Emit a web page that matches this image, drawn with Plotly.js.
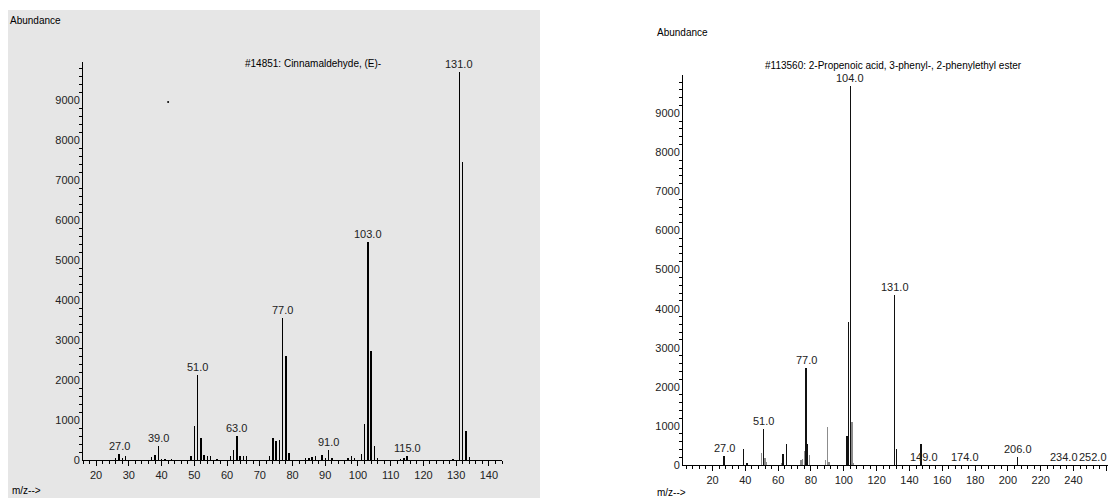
<!DOCTYPE html>
<html>
<head>
<meta charset="utf-8">
<script src="https://cdn.plot.ly/plotly-3.0.1.min.js"></script>
<style>body{margin:0}#plot{width:1110px;height:498px}</style>
</head>
<body>
<div id="plot"></div>
<script>
// Left spectrum: #14851 Cinnamaldehyde, (E)-
const cinMz = [26, 27, 28, 29, 37, 38, 39, 40, 41, 43, 49, 50, 51, 52, 53, 54, 55, 57, 61, 62, 63, 64, 65, 66, 73, 74, 75, 76, 77, 78, 79, 84, 85, 86, 87, 89, 90, 91, 92, 97, 98, 99, 101, 102, 103, 104, 105, 106, 113, 114, 115, 129, 131, 132, 133, 134];
const cinAb = [50, 160, 60, 100, 80, 130, 360, 30, 30, 20, 90, 860, 2120, 560, 130, 100, 100, 30, 100, 256, 590, 100, 100, 100, 100, 540, 480, 510, 3550, 2600, 180, 40, 50, 70, 90, 130, 40, 250, 40, 40, 100, 40, 150, 900, 5450, 2720, 350, 40, 30, 40, 100, 30, 9700, 7450, 730, 80];
const cinLabels = [27, 39, 51, 63, 77, 91, 103, 115, 131];

// Right spectrum: #113560 2-Propenoic acid, 3-phenyl-, 2-phenylethyl ester
const estMzDark = [27, 39, 41, 51, 63, 65, 77, 78, 102, 103, 104, 131, 132, 147, 206];
const estAbDark = [230, 400, 60, 920, 270, 550, 2480, 540, 750, 3650, 9700, 4350, 420, 550, 200];
const estMzGray = [50, 52, 53, 62, 74, 75, 76, 79, 89, 90, 91, 105, 106];
const estAbGray = [300, 170, 80, 60, 130, 160, 350, 250, 130, 970, 80, 1100, 60];
const estLabels = [27, 51, 77, 104, 131, 149, 174, 206, 234, 252];
const estLabelAt = [230, 920, 2480, 9700, 4350, 0, 0, 200, 0, 0];

const cinLabelAt = cinLabels.map(m => cinAb[cinMz.indexOf(m)]);

const data = [
  {type: 'bar', x: cinMz, y: cinAb, width: 0.45, marker: {color: '#000'}, xaxis: 'x', yaxis: 'y'},
  {type: 'scatter', mode: 'markers', x: [42], y: [8950], marker: {color: '#000', size: 2}, xaxis: 'x', yaxis: 'y'},
  {type: 'bar', x: estMzDark, y: estAbDark, width: 0.8, marker: {color: '#111'}, xaxis: 'x2', yaxis: 'y2'},
  {type: 'bar', x: estMzGray, y: estAbGray, width: 0.8, marker: {color: '#8c8c8c'}, xaxis: 'x2', yaxis: 'y2'}
];

const tickFont = {family: 'Liberation Sans, Arial, sans-serif', size: 11, color: '#222'};
const axisBase = {showgrid: false, zeroline: false, showline: true, linecolor: '#000', linewidth: 1,
  ticks: 'outside', ticklen: 5, tickcolor: '#000', tickfont: tickFont, tickformat: 'd'};

const annotations = [];
cinLabels.forEach((m, i) => annotations.push({xref: 'x', yref: 'y', x: m, y: cinLabelAt[i], text: m.toFixed(1),
  showarrow: false, yanchor: 'bottom', yshift: 0, font: tickFont}));
estLabels.forEach((m, i) => annotations.push({xref: 'x2', yref: 'y2', x: m, y: estLabelAt[i], text: m.toFixed(1),
  showarrow: false, yanchor: 'bottom', yshift: 0, font: tickFont}));
const txt = (x, y, t, anchor) => ({xref: 'paper', yref: 'paper', x: x, y: y, text: t, showarrow: false,
  xanchor: anchor || 'left', yanchor: 'middle', font: {family: 'Liberation Sans, Arial, sans-serif', size: 10, color: '#000'}});
annotations.push(txt(8 / 1110, 1 - 20 / 498, 'Abundance'));
annotations.push(txt(655 / 1110, 1 - 32 / 498, 'Abundance'));
annotations.push(txt(10 / 1110, 1 - 490 / 498, 'm/z-->'));
annotations.push(txt(655 / 1110, 1 - 492 / 498, 'm/z-->'));
annotations.push(txt(313 / 1110, 1 - 63 / 498, '#14851: Cinnamaldehyde, (E)-', 'center'));
annotations.push(txt(893 / 1110, 1 - 66 / 498, '#113560: 2-Propenoic acid, 3-phenyl-, 2-phenylethyl ester', 'center'));

const layout = {
  width: 1110, height: 498,
  margin: {l: 0, r: 0, t: 0, b: 0},
  paper_bgcolor: '#fff', plot_bgcolor: 'rgba(0,0,0,0)',
  showlegend: false, bargap: 0,
  shapes: [{type: 'rect', xref: 'paper', yref: 'paper', x0: 8 / 1110, x1: 540 / 1110, y0: 0, y1: 1 - 10 / 498,
    fillcolor: '#e6e6e6', line: {width: 0}, layer: 'below'}],
  xaxis: Object.assign({}, axisBase, {domain: [83 / 1110, 502 / 1110], range: [16, 144], dtick: 10, tick0: 0,
    minor: {dtick: 2, ticks: 'outside', ticklen: 3, tickcolor: '#000'}, anchor: 'y'}),
  yaxis: Object.assign({}, axisBase, {domain: [1 - 460 / 498, 1 - 62 / 498], range: [0, 9950], dtick: 1000,
    minor: {dtick: 200, ticks: 'outside', ticklen: 3, tickcolor: '#000'}, ticklen: 0, anchor: 'x'}),
  xaxis2: Object.assign({}, axisBase, {domain: [683 / 1110, 1108 / 1110], range: [2, 261], dtick: 20, tick0: 0,
    minor: {dtick: 4, ticks: 'outside', ticklen: 3, tickcolor: '#000'}, anchor: 'y2'}),
  yaxis2: Object.assign({}, axisBase, {domain: [1 - 465 / 498, 1 - 75 / 498], range: [0, 9980], dtick: 1000,
    minor: {dtick: 200, ticks: 'outside', ticklen: 3, tickcolor: '#000'}, ticklen: 0, anchor: 'x2'}),
  annotations: annotations
};

Plotly.newPlot('plot', data, layout, {staticPlot: true});
</script>
</body>
</html>
